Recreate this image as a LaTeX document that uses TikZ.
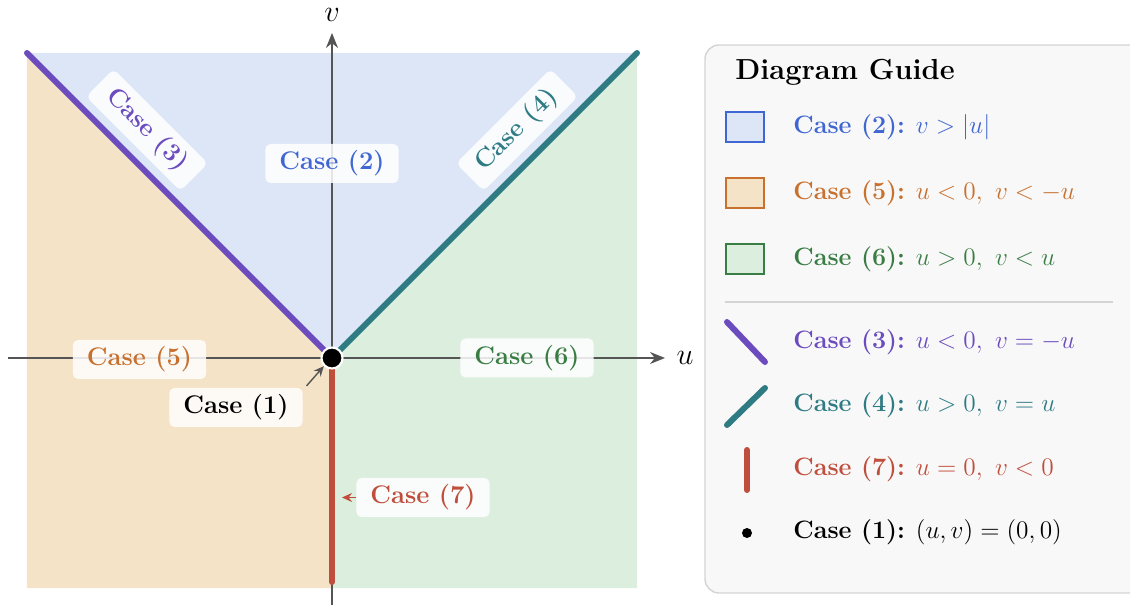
\documentclass[tikz,border=0pt]{standalone}
\usepackage{amsmath}
\usepackage{tikz}
\usetikzlibrary{arrows.meta,positioning}

\definecolor{regblue}{HTML}{DCE6F7}
\definecolor{regorange}{HTML}{F5E3C8}
\definecolor{reggreen}{HTML}{DCEEDE}
\definecolor{cblue}{HTML}{3F66D3}
\definecolor{corange}{HTML}{C8702E}
\definecolor{cgreen}{HTML}{3A7D44}
\definecolor{cpurple}{HTML}{6B4BBE}
\definecolor{cteal}{HTML}{2E7B84}
\definecolor{cred}{HTML}{BF4E3C}
\definecolor{axisgray}{HTML}{555555}
\definecolor{legfill}{HTML}{F8F8F8}
\definecolor{legborder}{HTML}{D4D4D4}

\begin{document}
\begin{tikzpicture}[
      font=\fontsize{14.5}{17}\selectfont\bfseries,
      tag/.style={fill=white, fill opacity=0.85, text opacity=1, rounded corners=3pt, inner xsep=8pt, minimum height=7.8mm},
      axis/.style={-{Stealth[length=3mm, width=2.4mm]}, draw=axisgray, line width=0.8pt},
      edge/.style={line width=3.4pt, line cap=round},
      swatch/.style={minimum width=7.6mm, minimum height=6mm, inner sep=0, line width=0.8pt},
      entry/.style={anchor=west, inner sep=0, font=\fontsize{14.3}{17}\selectfont},
      pointer/.style={-{Stealth[length=2mm, width=1.8mm]}, line width=0.8pt}
    ]
    \clip (-6.64,-4.94) rectangle (15.96,7.16);
    \fill[regblue] (0,0) -- (-6.1,6.1) -- (6.1,6.1) -- cycle;
    \fill[regorange] (0,0) -- (-6.1,6.1) -- (-6.1,-4.6) -- (0,-4.6) -- cycle;
    \fill[reggreen] (0,0) -- (6.1,6.1) -- (6.1,-4.6) -- (0,-4.6) -- cycle;

    \coordinate (O) at (0,0);
    \coordinate (uL) at (-6.48,0);
    \coordinate (uR) at (6.66,0);
    \coordinate (vB) at (0,-4.96);
    \coordinate (vT) at (0,6.5);
    \node[inner sep=1pt, font=\fontsize{17}{20}\selectfont] (ulab) at (7.06,0) {$u$};
    \node[inner sep=1pt, font=\fontsize{17}{20}\selectfont] (vlab) at (0,6.86) {$v$};
    \draw[axis] (uL) -- (uR);
    \draw[axis] (vB) -- (vT);

    \coordinate (tl) at (-6.1,6.1);
    \coordinate (tr) at (6.1,6.1);
    \coordinate (bm) at (0,-4.48);
    \draw[edge, cpurple] (O) -- (tl);
    \draw[edge, cteal] (O) -- (tr);
    \draw[edge, cred] (O) -- (bm);
    \node[circle, fill=black, draw=white, line width=1.2pt, minimum size=4.2mm, inner sep=0] (orig) at (O) {};

    \node[tag, text=cblue] (c2) at (0,3.89) {Case (2)};
    \node[tag, text=cpurple, rotate=-45] (c3) at (-3.7,4.56) {Case (3)};
    \node[tag, text=cteal, rotate=45] (c4) at (3.7,4.56) {Case (4)};
    \node[tag, text=corange] (c5) at (-3.85,-0.03) {Case (5)};
    \node[tag, text=cgreen] (c6) at (3.9,0) {Case (6)};
    \node[tag, text=black] (c1) at (-1.92,-0.99) {Case (1)};
    \node[tag, text=cred] (c7) at (1.82,-2.79) {Case (7)};
    \coordinate (p7) at (0.2,-2.79);
    \draw[pointer, axisgray] ([xshift=2pt, yshift=1pt]c1.north east) -- (orig.south west);
    \draw[pointer, cred] (c7.west) -- (p7);

    \draw[legborder, fill=legfill, rounded corners=8pt, line width=0.8pt] (7.46,-4.7) rectangle (16.4,6.26);
    \node[anchor=west, inner sep=0, font=\fontsize{16.5}{20}\selectfont\bfseries] (title) at (8.06,5.72) {Diagram Guide};

    \node[swatch, draw=cblue, fill=regblue] (s2) at (8.26,4.62) {};
    \node[entry, text=cblue] (t2) at (9.22,4.62) {\textbf{Case (2):} $v>|u|$};
    \node[swatch, draw=corange, fill=regorange] (s5) at (8.26,3.30) {};
    \node[entry, text=corange] (t5) at (9.22,3.30) {\textbf{Case (5):} $u<0,\ v<-u$};
    \node[swatch, draw=cgreen, fill=reggreen] (s6) at (8.26,1.98) {};
    \node[entry, text=cgreen] (t6) at (9.22,1.98) {\textbf{Case (6):} $u>0,\ v<u$};

    \draw[legborder, line width=0.8pt] (7.86,1.12) -- (15.62,1.12);

    \draw[edge, cpurple] (7.9,0.72) -- (8.66,-0.08);
    \node[entry, text=cpurple] (t3) at (9.22,0.32) {\textbf{Case (3):} $u<0,\ v=-u$};
    \draw[edge, cteal] (7.9,-1.34) -- (8.66,-0.6);
    \node[entry, text=cteal] (t4) at (9.22,-0.94) {\textbf{Case (4):} $u>0,\ v=u$};
    \draw[edge, cred] (8.3,-1.84) -- (8.3,-2.64);
    \node[entry, text=cred] (t7) at (9.22,-2.22) {\textbf{Case (7):} $u=0,\ v<0$};
    \node[circle, fill=black, minimum size=2mm, inner sep=0] (d1) at (8.3,-3.5) {};
    \node[entry, text=black] (t1) at (9.22,-3.48) {\textbf{Case (1):} $(u,v)=(0,0)$};
  \end{tikzpicture}
\end{document}
